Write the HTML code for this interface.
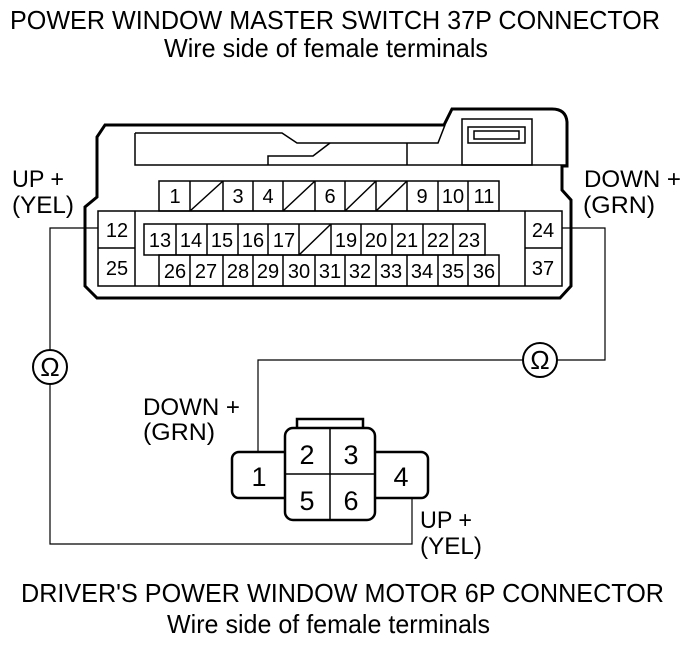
<!DOCTYPE html>
<html><head><meta charset="utf-8"><style>
html,body{margin:0;padding:0;background:#fff;}
svg{display:block;}
text{font-family:"Liberation Sans",Arial,sans-serif;fill:#000;}
</style></head><body>
<svg width="694" height="646" viewBox="0 0 694 646" xmlns="http://www.w3.org/2000/svg">
<g font-size="26">
<text x="10" y="29" textLength="650" lengthAdjust="spacingAndGlyphs">POWER WINDOW MASTER SWITCH 37P CONNECTOR</text>
<text x="164" y="57" textLength="324" lengthAdjust="spacingAndGlyphs">Wire side of female terminals</text>
<text x="21" y="602" textLength="643" lengthAdjust="spacingAndGlyphs">DRIVER'S POWER WINDOW MOTOR 6P CONNECTOR</text>
<text x="167" y="633" textLength="323" lengthAdjust="spacingAndGlyphs">Wire side of female terminals</text>
</g>
<g font-size="24">
<text x="12" y="187" textLength="52" lengthAdjust="spacingAndGlyphs">UP +</text>
<text x="12" y="213" textLength="62" lengthAdjust="spacingAndGlyphs">(YEL)</text>
<text x="584" y="187" textLength="97" lengthAdjust="spacingAndGlyphs">DOWN +</text>
<text x="583" y="213" textLength="72" lengthAdjust="spacingAndGlyphs">(GRN)</text>
<text x="143" y="415" textLength="97" lengthAdjust="spacingAndGlyphs">DOWN +</text>
<text x="143" y="440" textLength="72" lengthAdjust="spacingAndGlyphs">(GRN)</text>
<text x="420" y="528" textLength="52" lengthAdjust="spacingAndGlyphs">UP +</text>
<text x="420" y="554" textLength="62" lengthAdjust="spacingAndGlyphs">(YEL)</text>
</g>
<path d="M105,125 L444,125 L452,109 L552,109 Q566,109 567,122 L567,166 L562,166 L562,190 L571,200 L571,286 L560,298 L97,298 L85,286 L85,207 L97,197 L97,137 Z" fill="none" stroke="#000" stroke-width="3"/>
<g fill="none" stroke="#000" stroke-width="1.5">
<path d="M135,133 L282,133 L297,143 L438,143 L445,125"/>
<path d="M135,133 L135,165 L567,165"/>
<line x1="407" y1="143" x2="407" y2="165"/>
<path d="M268,165 L268,156 L313,156 L330,143"/>
<rect x="462" y="119" width="70" height="46"/>
<rect x="468" y="127" width="57" height="16"/>
<rect x="474" y="131" width="45" height="8"/>
<rect x="98" y="211" width="464" height="75"/>
<line x1="135" y1="211" x2="135" y2="286"/>
<line x1="98" y1="248" x2="135" y2="248"/>
<line x1="525" y1="211" x2="525" y2="286"/>
<line x1="525" y1="248" x2="562" y2="248"/>
<rect x="159" y="181" width="340" height="30"/>
<path d="M190,181V211M223,181V211M253,181V211M283,181V211M315,181V211M345,181V211M376,181V211M407,181V211M438,181V211M468,181V211"/>
<path d="M190,211L223,181M283,211L315,181M345,211L376,181M376,211L407,181"/>
<rect x="144" y="224" width="341" height="31"/>
<path d="M176,224V255M207,224V255M238,224V255M268,224V255M299,224V255M331,224V255M361,224V255M392,224V255M423,224V255M453,224V255"/>
<path d="M299,255L331,224"/>
<rect x="159" y="255" width="340" height="31"/>
<path d="M190,255V286M223,255V286M253,255V286M283,255V286M315,255V286M345,255V286M376,255V286M407,255V286M438,255V286M468,255V286"/>
</g>
<g font-size="20" text-anchor="middle">
<text x="117" y="237">12</text><text x="117" y="275">25</text>
<text x="543" y="237">24</text><text x="543" y="275">37</text>
<text x="175" y="203">1</text><text x="238" y="203">3</text><text x="268" y="203">4</text><text x="330" y="203">6</text>
<text x="422" y="203">9</text><text x="453" y="203">10</text><text x="484" y="203">11</text>
<text x="160" y="247">13</text><text x="191" y="247">14</text><text x="222" y="247">15</text><text x="253" y="247">16</text><text x="284" y="247">17</text>
<text x="346" y="247">19</text><text x="376" y="247">20</text><text x="407" y="247">21</text><text x="438" y="247">22</text><text x="469" y="247">23</text>
<text x="175" y="278">26</text><text x="206" y="278">27</text><text x="238" y="278">28</text><text x="268" y="278">29</text><text x="299" y="278">30</text>
<text x="330" y="278">31</text><text x="360" y="278">32</text><text x="391" y="278">33</text><text x="422" y="278">34</text><text x="453" y="278">35</text><text x="484" y="278">36</text>
</g>
<g fill="none" stroke="#000" stroke-width="1.2">
<path d="M98,228 L50,228 L50,350 M50,384 L50,544 L412,544 L412,498"/>
<path d="M562,228 L605,228 L605,360 L557,360 M523,360 L258,360 L258,452"/>
</g>
<g fill="none" stroke="#000" stroke-width="2">
<circle cx="50" cy="367" r="17"/>
<circle cx="540" cy="360" r="17"/>
</g>
<g font-size="26" text-anchor="middle">
<text x="50" y="376">Ω</text>
<text x="540" y="369">Ω</text>
</g>
<g fill="#fff" stroke="#000" stroke-width="2.5">
<rect x="232" y="452" width="60" height="46" rx="7"/>
<rect x="368" y="452" width="60" height="46" rx="7"/>
<rect x="297" y="419" width="66" height="12"/>
<rect x="285" y="428" width="90" height="92" rx="8"/>
</g>
<g stroke="#000" stroke-width="1.5">
<line x1="330" y1="428" x2="330" y2="520"/>
<line x1="285" y1="474" x2="375" y2="474"/>
</g>
<g font-size="27" text-anchor="middle">
<text x="307" y="464">2</text><text x="351" y="464">3</text>
<text x="307" y="510">5</text><text x="351" y="510">6</text>
<text x="259" y="486">1</text><text x="401" y="486">4</text>
</g>
</svg>
</body></html>
